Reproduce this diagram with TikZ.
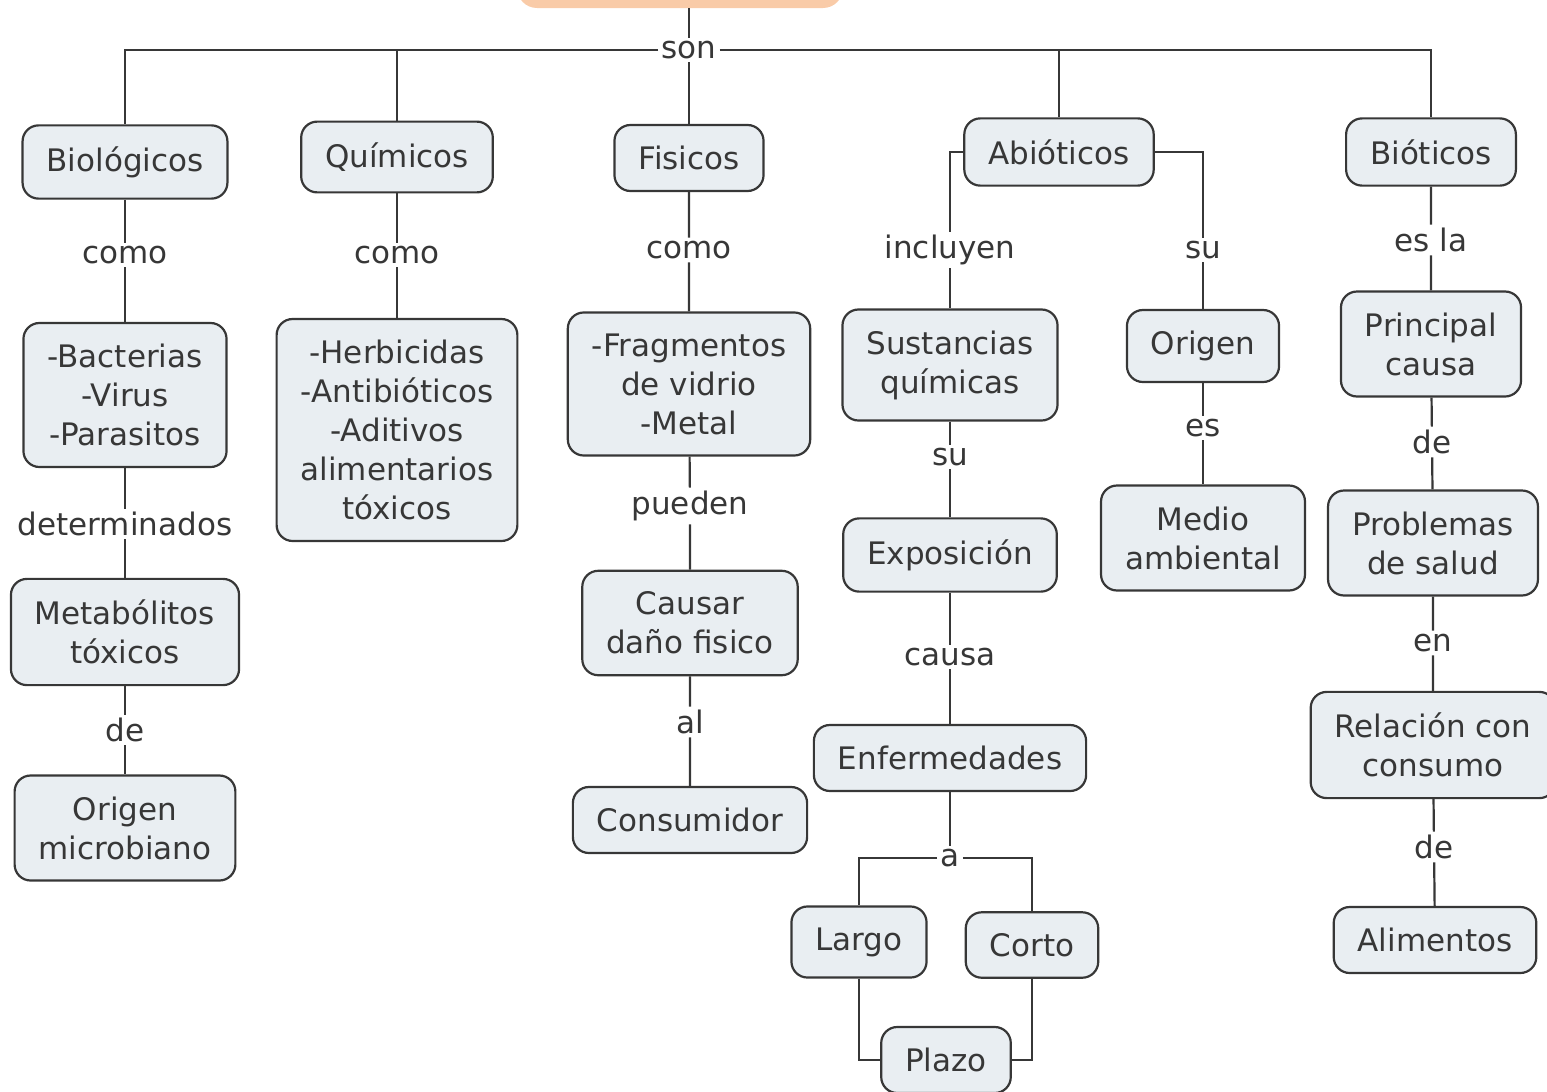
\documentclass[tikz,border=0pt]{standalone}
\usepackage{fontspec}
\setmainfont{DejaVu Sans}
\definecolor{boxfill}{RGB}{233,238,242}
\definecolor{boxline}{RGB}{55,55,55}
\definecolor{rootfill}{RGB}{249,203,168}
\tikzset{
  concept/.style={draw=boxline, line width=1.1pt, fill=boxfill, rounded corners=8pt,
    align=center, inner xsep=12pt, inner ysep=10.5pt, text=boxline},
  linkword/.style={fill=white, inner sep=1.5pt, text=boxline},
  link/.style={draw=boxline, line width=1.1pt}
}

\begin{document}
\begin{tikzpicture}[x=0.5pt, y=-0.5pt, font=\fontsize{15.5}{19.5}\selectfont]
\useasboundingbox (0,0) rectangle (1547,1092);
% root concept, cut off at the top
\node[fill=rootfill, rounded corners=10pt, minimum width=163pt, minimum height=40pt] (root) at (680,-32) {};

% concepts
\node[concept] (bio) at (125,162) {Biológicos};
\node[concept] (qui) at (397,157) {Químicos};
\node[concept] (fis) at (689,158) {Fisicos};
\node[concept] (abi) at (1059,152) {Abióticos};
\node[concept] (biot) at (1431,152) {Bióticos};

\node[concept] (bac) at (125,395) {-Bacterias\\-Virus\\-Parasitos};
\node[concept] (met) at (125,632) {Metabólitos\\tóxicos};
\node[concept] (omi) at (125,828) {Origen\\microbiano};

\node[concept] (her) at (397,430) {-Herbicidas\\-Antibióticos\\-Aditivos\\alimentarios\\tóxicos};

\node[concept] (fra) at (689,384) {-Fragmentos\\de vidrio\\-Metal};
\node[concept] (cau) at (690,623) {Causar\\daño fisico};
\node[concept] (con) at (690,820) {Consumidor};

\node[concept] (sus) at (950,365) {Sustancias\\químicas};
\node[concept] (exp) at (950,555) {Exposición};
\node[concept] (enf) at (950,758) {Enfermedades};
\node[concept] (lar) at (859,942) {Largo};
\node[concept] (cor) at (1032,945) {Corto};
\node[concept] (pla) at (946,1060) {Plazo};

\node[concept] (ori) at (1203,346) {Origen};
\node[concept] (med) at (1203,538) {Medio\\ambiental};

\node[concept] (pri) at (1431,344) {Principal\\causa};
\node[concept] (pro) at (1433,543) {Problemas\\de salud};
\node[concept] (rel) at (1433,745) {Relación con\\consumo};
\node[concept] (ali) at (1435,940) {Alimentos};

% linking words
\node[linkword] (son) at (689,50) {son};
\node[linkword] (como1) at (125,255) {como};
\node[linkword] (det) at (125,524) {determinados};
\node[linkword] (de1) at (125,730) {de};
\node[linkword] (como2) at (397,255) {como};
\node[linkword] (como3) at (689,250) {como};
\node[linkword] (pue) at (690,506) {pueden};
\node[linkword] (al) at (690,722) {al};
\node[linkword] (incl) at (950,250) {incluyen};
\node[linkword] (su1) at (950,457) {su};
\node[linkword] (causa) at (950,657) {causa};
\node[linkword] (a) at (950,858) {a};
\node[linkword] (su2) at (1203,250) {su};
\node[linkword] (es) at (1203,428) {es};
\node[linkword] (esla) at (1431,240) {es la};
\node[linkword] (de2) at (1432,442) {de};
\node[linkword] (en) at (1433,643) {en};
\node[linkword] (de3) at (1434,847) {de};

% connectors
\draw[link] (root.south -| son) -- (son);
\draw[link] (son) -- (fis);
\draw[link] (son) -| (bio);
\draw[link] (son) -| (qui);
\draw[link] (son) -| (abi);
\draw[link] (son) -| (biot);
\draw[link] (bio) -- (como1) -- (bac) -- (det) -- (met) -- (de1) -- (omi);
\draw[link] (qui) -- (como2) -- (her);
\draw[link] (fis) -- (como3) -- (fra) -- (pue) -- (cau) -- (al) -- (con);
\draw[link] (abi) -| (incl);
\draw[link] (incl) -- (sus) -- (su1) -- (exp) -- (causa) -- (enf) -- (a);
\draw[link] (a) -| (lar);
\draw[link] (a) -| (cor);
\draw[link] (lar) |- (pla);
\draw[link] (cor) |- (pla);
\draw[link] (abi) -| (su2);
\draw[link] (su2) -- (ori) -- (es) -- (med);
\draw[link] (biot) -- (esla) -- (pri) -- (de2) -- (pro) -- (en) -- (rel) -- (de3) -- (ali);
\end{tikzpicture}
\end{document}
